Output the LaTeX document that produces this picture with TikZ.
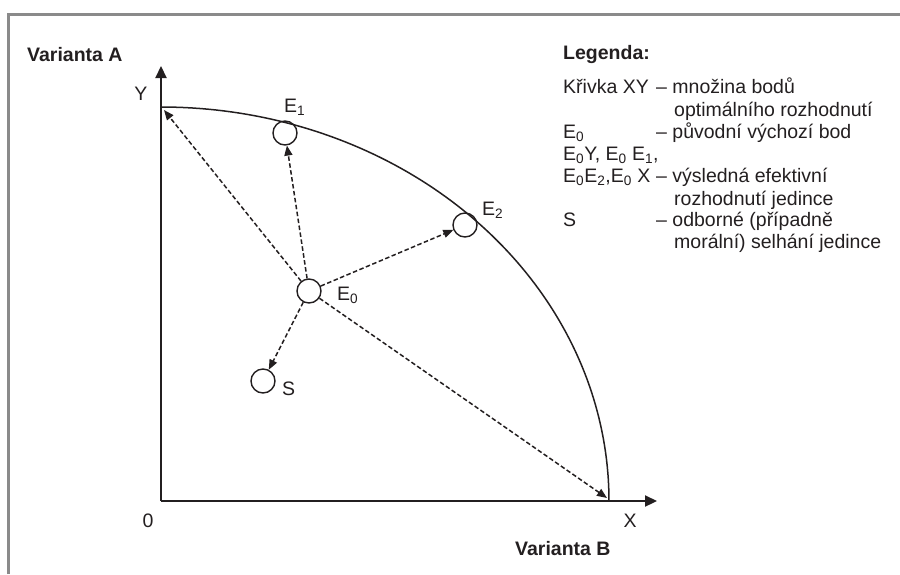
\documentclass[tikz,border=0pt]{standalone}
\usepackage{fontspec}
\setmainfont{Liberation Sans}
\usetikzlibrary{arrows.meta}
\definecolor{ink}{HTML}{231F20}
\definecolor{framegray}{HTML}{8A8A8A}
\begin{document}
\begin{tikzpicture}[x=1pt,y=-1pt,
  txt/.style={inner sep=0pt,text=ink,font=\fontsize{19.5}{22}\selectfont},
  btxt/.style={txt,font=\fontsize{19.5}{22}\selectfont\bfseries},
  pt/.style={draw=ink,circle,line width=1.4pt,minimum size=24pt,inner sep=0pt},
  axis/.style={draw=ink,line width=2.2pt,-{Triangle[length=12pt,width=11pt]}},
  darrow/.style={draw=ink,line width=1.5pt,dash pattern=on 4.5pt off 2.5pt,-{Triangle[length=10pt,width=8pt]}}]
\useasboundingbox (0,0) rectangle (900,574);
% frame
\draw[framegray,line width=3pt] (8,574) -- (8,14) -- (900,14);
% axes
\coordinate (O) at (161,501);
\coordinate (Ytop) at (161,66);
\coordinate (Xend) at (657,501);
\coordinate (Y) at (161,107);
\coordinate (X) at (609,501);
\coordinate (Ytip) at (164,110);
\coordinate (Xtip) at (607,498);
\draw[axis] (O) -- (Ytop);
\draw[axis] (O) -- (Xend);
% curve XY
\draw[ink,line width=1.5pt] plot[domain=0:90,samples=90] ({161+448*cos(\x)},{501-394*sin(\x)});
% points
\node[pt] (E0) at (309,291) {};
\node[pt] (E1) at (285,133) {};
\node[pt] (E2) at (465,225) {};
\node[pt] (S) at (263,381) {};
% arrows
\draw[darrow] (E0) -- (Ytip);
\draw[darrow] (E0) -- (E1);
\draw[darrow] (E0) -- (E2);
\draw[darrow] (E0) -- (S);
\draw[darrow] (E0) -- (Xtip);
% labels
\node[txt,anchor=base west] (lE1) at (284,112) {E\textsubscript{1}};
\node[txt,anchor=base west] (lE2) at (482,215) {E\textsubscript{2}};
\node[txt,anchor=base west] (lE0) at (337,300) {E\textsubscript{0}};
\node[txt,anchor=base west] (lS) at (282,395) {S};
\node[txt,anchor=base] (lY) at (141,100) {Y};
\node[txt,anchor=base] (lX) at (630,527) {X};
\node[txt,anchor=base] (l0) at (148,527) {0};
\node[btxt,anchor=base west] (vA) at (27,61) {Varianta A};
\node[btxt,anchor=base west] (vB) at (515,555) {Varianta B};
% legend
\node[btxt,anchor=base west] (leg) at (563,59) {Legenda:};
\node[txt,anchor=base west] (k1) at (563,93) {Křivka XY};
\node[txt,anchor=base west] (d1) at (656,93) {– množina bodů};
\node[txt,anchor=base west] (d1b) at (674,116) {optimálního rozhodnutí};
\node[txt,anchor=base west] (k2) at (563,138) {E\textsubscript{0}};
\node[txt,anchor=base west] (d2) at (656,138) {– původní výchozí bod};
\node[txt,anchor=base west] (k3) at (563,160) {E\textsubscript{0}Y, E\textsubscript{0} E\textsubscript{1},};
\node[txt,anchor=base west] (k3b) at (563,182) {E\textsubscript{0}E\textsubscript{2},E\textsubscript{0} X};
\node[txt,anchor=base west] (d3) at (656,182) {– výsledná efektivní};
\node[txt,anchor=base west] (d3b) at (674,205) {rozhodnutí jedince};
\node[txt,anchor=base west] (k4) at (563,226) {S};
\node[txt,anchor=base west] (d4) at (656,226) {– odborné (případně};
\node[txt,anchor=base west] (d4b) at (674,248) {morální) selhání jedince};
\end{tikzpicture}
\end{document}
